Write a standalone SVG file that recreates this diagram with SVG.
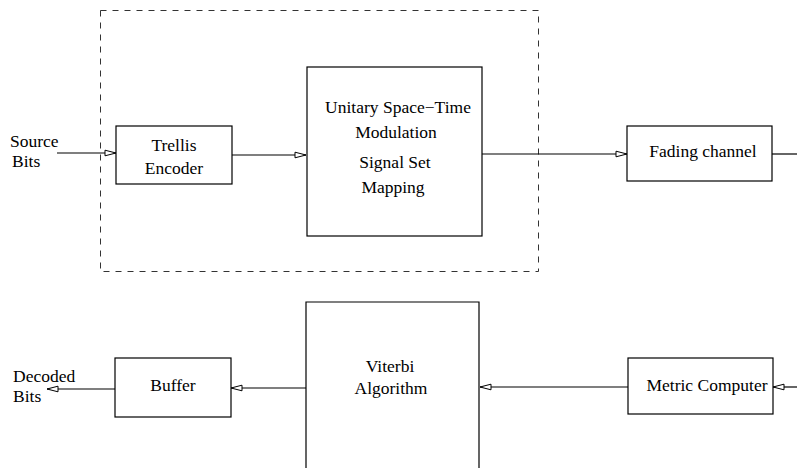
<svg xmlns="http://www.w3.org/2000/svg" width="797" height="468" viewBox="0 0 797 468">
<style>
.box{fill:none;stroke:#000;stroke-width:1.2}
.dash{fill:none;stroke:#333;stroke-width:1;stroke-dasharray:6,6}
.t{font-family:"Liberation Serif","Times New Roman",serif;font-size:17.5px;fill:#000}
.m{text-anchor:middle}
.c{stroke:#000;stroke-width:1.2;fill:none;marker-end:url(#ah)}
</style>
<defs>
<marker id="ah" markerUnits="userSpaceOnUse" viewBox="0 0 13 8" refX="12" refY="4" markerWidth="13" markerHeight="8" orient="auto">
<path d="M1,1.2 L12,4 L1,6.8 Z" fill="#fff" stroke="#000" stroke-width="1"/>
</marker>
</defs>
<rect width="797" height="468" fill="#fff"/>
<g id="encoder-group"><rect class="dash" x="100.5" y="10.5" width="438" height="261"/></g>
<g id="source"><text class="t" x="10" y="147">Source</text><text class="t" x="12" y="167">Bits</text></g>
<g id="trellis"><rect class="box" x="116" y="126" width="116" height="58"/><text class="t m" x="174" y="151">Trellis</text><text class="t m" x="174" y="174">Encoder</text></g>
<g id="ustm"><rect class="box" x="307" y="67" width="175" height="169"/><text class="t m" x="398" y="113">Unitary Space−Time</text><text class="t m" x="396" y="138">Modulation</text><text class="t m" x="395" y="168">Signal Set</text><text class="t m" x="393" y="193">Mapping</text></g>
<g id="fading"><rect class="box" x="627" y="126" width="145" height="55"/><text class="t m" x="703" y="157">Fading channel</text></g>
<g id="decoded"><text class="t" x="13" y="382">Decoded</text><text class="t" x="13" y="402">Bits</text></g>
<g id="buffer"><rect class="box" x="115" y="358" width="116" height="59"/><text class="t m" x="173" y="391">Buffer</text></g>
<g id="viterbi"><path class="box" d="M306,468 V302 H479 V468"/><text class="t m" x="390" y="372">Viterbi</text><text class="t m" x="391" y="394">Algorithm</text></g>
<g id="metric"><rect class="box" x="628" y="358" width="145" height="56"/><text class="t m" x="707" y="391">Metric Computer</text></g>
<g id="connectors">
<line class="c" x1="57" y1="153" x2="116" y2="153"/>
<line class="c" x1="232" y1="155" x2="306" y2="155"/>
<line class="c" x1="482" y1="154" x2="627" y2="154"/>
<line x1="772" y1="154" x2="797" y2="154" stroke="#000" stroke-width="1.2"/>
<line class="c" x1="306" y1="388" x2="231" y2="388"/>
<line class="c" x1="115" y1="389" x2="47" y2="389"/>
<line class="c" x1="628" y1="387" x2="480" y2="387"/>
<line class="c" x1="797" y1="387" x2="773" y2="387"/>
</g>
</svg>
